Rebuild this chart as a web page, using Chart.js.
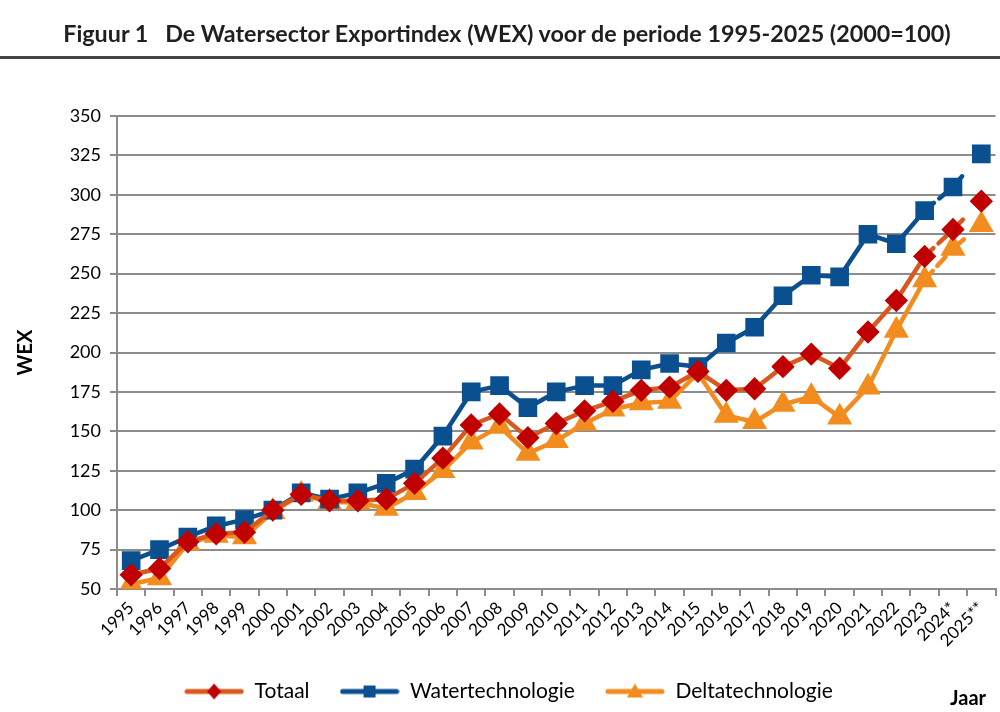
<!DOCTYPE html>
<html>
<head>
<meta charset="utf-8">
<script src="https://cdn.jsdelivr.net/npm/chart.js@4/dist/chart.umd.min.js"></script>
<style>
  html, body { margin: 0; padding: 0; background: #fff; overflow: hidden; }
  #wrap { position: relative; width: 1000px; height: 712px; overflow: hidden; }
  #titel {
    position: absolute; left: 0; top: 0; width: 986px; height: 56px; padding-left: 14px;
    border-bottom: 3px solid #444; box-sizing: content-box;
    font: bold 23.3px Lato, "Liberation Sans", sans-serif; color: #1f1f1f;
    text-align: center; line-height: 66px; white-space: pre;
  }
  #jaar {
    position: absolute; left: 950px; top: 685px;
    font: bold 20px Lato, "Liberation Sans", sans-serif; color: #000;
  }
  canvas { position: absolute; left: 0; top: 0; }
</style>
</head>
<body>
<div id="wrap">
  <canvas id="wex" width="1010" height="712"></canvas>
  <div id="titel">Figuur 1   De Watersector Exportindex (WEX) voor de periode 1995-2025 (2000=100)</div>
  <div id="jaar">Jaar</div>
</div>
<script>
/* WEX 1995-2025, index 2000=100 */

const jaren = ["1995","1996","1997","1998","1999","2000","2001","2002","2003","2004",
  "2005","2006","2007","2008","2009","2010","2011","2012","2013","2014",
  "2015","2016","2017","2018","2019","2020","2021","2022","2023","2024*","2025**"];

const totaal = [59, 63, 80, 85, 86, 100, 110, 106, 106, 107,
  117, 133, 154, 161, 146, 155, 163, 169, 176, 178,
  188, 176, 177, 191, 199, 190, 213, 233, 261, 278, 296];

const waterTech = [68, 75, 83, 90, 94, 100, 111, 107, 111, 117,
  126, 147, 175, 179, 165, 175, 179, 179, 189, 193,
  191, 206, 216, 236, 249, 248, 275, 269, 290, 305, 326];

const deltaTech = [53, 57, 79, 84, 83, 99, 110, 105, 105, 101,
  111, 125, 143, 153, 136, 144, 155, 164, 168, 169,
  187, 160, 156, 167, 172, 159, 178, 214, 246, 266, 281];

const yTicks = [50, 75, 100, 125, 150, 175, 200, 225, 250, 275, 300, 325, 350];

const FONT = "Lato, 'Liberation Sans', sans-serif";
const ROOD = "#c00000", LIJN_TOT = "#d9581e", BLAUW = "#0a4f8f", ORANJE = "#f28c1e";

// laatste twee jaren (raming) gestreept
const streep = (ctx) => {
  const i = ctx.p0DataIndex;
  if (i === 28) return [12, 7];
  if (i === 29) return [14, 60];
  return undefined;
};

function legendIcoon(lijn, vorm, kleur) {
  const c = document.createElement("canvas");
  c.width = 60; c.height = 20;
  const g = c.getContext("2d");
  g.strokeStyle = lijn; g.lineWidth = 5; g.lineCap = "round";
  g.beginPath(); g.moveTo(3, 10); g.lineTo(57, 10); g.stroke();
  g.fillStyle = kleur;
  g.beginPath();
  if (vorm === "ruit") { g.moveTo(30, 2); g.lineTo(37, 10); g.lineTo(30, 18); g.lineTo(23, 10); }
  else if (vorm === "blok") { g.rect(24, 4, 12, 12); }
  else { g.moveTo(30, 2); g.lineTo(38, 16); g.lineTo(22, 16); }
  g.closePath(); g.fill();
  return c;
}

function reeks(label, data, lijn, punt, vorm, straal, icoon) {
  return {
    label, data,
    borderColor: lijn, backgroundColor: punt,
    pointBackgroundColor: punt, pointBorderColor: punt,
    borderWidth: 4.5, pointStyle: vorm, pointRadius: straal, pointHoverRadius: straal,
    borderCapStyle: "round", borderJoinStyle: "round",
    tension: 0,
    segment: { borderDash: streep },
    legendIcon: icoon,
  };
}

new Chart(document.getElementById("wex"), {
  type: "line",
  data: {
    labels: jaren,
    datasets: [
      reeks("Totaal", totaal, LIJN_TOT, ROOD, "rectRot", 8.5, legendIcoon(LIJN_TOT, "ruit", ROOD)),
      reeks("Watertechnologie", waterTech, BLAUW, BLAUW, "rect", 10, legendIcoon(BLAUW, "blok", BLAUW)),
      reeks("Deltatechnologie", deltaTech, ORANJE, ORANJE, "triangle", 10, legendIcoon(ORANJE, "drie", ORANJE)),
    ],
  },
  options: {
    responsive: false,
    animation: false,
    layout: { padding: { top: 116, left: 10, right: 3, bottom: 0 } },
    plugins: {
      tooltip: { enabled: false },
      legend: {
        position: "bottom",
        labels: {
          usePointStyle: true,
          pointStyleWidth: 60,
          padding: 30,
          color: "#000",
          font: { family: FONT, size: 21 },
          generateLabels: (chart) =>
            chart.data.datasets.map((d, i) => ({
              text: d.label,
              pointStyle: d.legendIcon,
              datasetIndex: i,
              fontColor: "#000",
              lineWidth: 0,
            })),
        },
      },
    },
    scales: {
      x: {
        offset: true,
        grid: { offset: true, drawOnChartArea: false, drawTicks: true, tickLength: 7, color: "#8c8c8c", lineWidth: 2 },
        border: { color: "#8c8c8c", width: 2 },
        ticks: {
          autoSkip: false, maxRotation: 45, minRotation: 45, padding: 2,
          color: "#000", font: { family: FONT, size: 17 },
        },
        afterFit: (s) => { s.height = 62; },
      },
      y: {
        min: 50, max: 350,
        afterBuildTicks: (s) => { s.ticks = yTicks.map((v) => ({ value: v })); },
        grid: { color: "#8c8c8c", lineWidth: 2, tickLength: 7 },
        border: { color: "#8c8c8c", width: 2 },
        ticks: { padding: 9, color: "#000", font: { family: FONT, size: 18 } },
        title: { display: true, text: "WEX", color: "#000", font: { family: FONT, size: 20, weight: "bold" }, padding: 4 },
        afterFit: (s) => { s.width = 107; },
      },
    },
  },
});
</script>
</body>
</html>
